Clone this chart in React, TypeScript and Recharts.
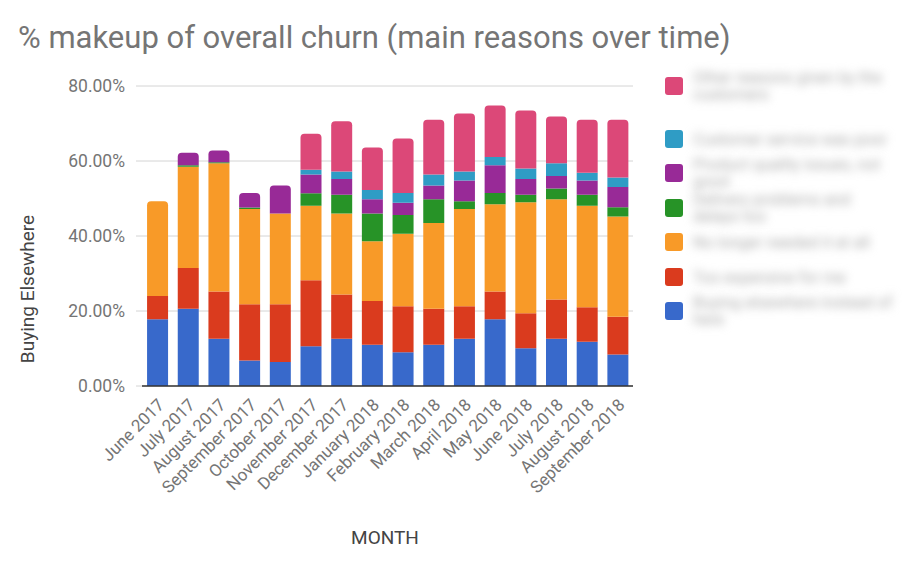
import { BarChart, Bar, XAxis, YAxis, CartesianGrid } from 'recharts';

const months = [
  'June 2017', 'July 2017', 'August 2017', 'September 2017', 'October 2017',
  'November 2017', 'December 2017', 'January 2018', 'February 2018', 'March 2018',
  'April 2018', 'May 2018', 'June 2018', 'July 2018', 'August 2018', 'September 2018',
];

// % of churn per reason, bottom of the stack first
const blueVals = [17.8, 20.6, 12.6, 6.8, 6.4, 10.6, 12.6, 11.0, 9.0, 11.0, 12.6, 17.8, 10.1, 12.6, 11.8, 8.4];
const redVals = [6.2, 10.9, 12.6, 15.0, 15.4, 17.6, 11.8, 11.7, 12.3, 9.6, 8.7, 7.4, 9.3, 10.5, 9.2, 10.1];
const orangeVals = [25.3, 27.0, 34.2, 25.4, 24.2, 19.9, 21.6, 15.9, 19.3, 22.9, 25.9, 23.3, 29.6, 26.7, 27.1, 26.7];
const greenVals = [0, 0.4, 0.3, 0.4, 0, 3.3, 5.0, 7.4, 5.0, 6.3, 2.1, 3.0, 2.0, 2.9, 2.9, 2.5];
const purpleVals = [0, 3.3, 3.1, 3.9, 7.5, 5.0, 4.2, 3.8, 3.3, 3.7, 5.5, 7.4, 4.2, 3.3, 3.8, 5.4];
const tealVals = [0, 0, 0, 0, 0, 1.3, 2.0, 2.5, 2.6, 2.9, 2.4, 2.2, 2.8, 3.4, 2.1, 2.5];
const pinkVals = [0, 0, 0, 0, 0, 9.6, 13.4, 11.3, 14.5, 14.6, 15.5, 13.7, 15.5, 12.5, 14.1, 15.4];

const yTicks = [0, 20, 40, 60, 80];

const series = [
  { key: 'blue', name: 'Buying elsewhere instead of here', color: '#3869cb', values: blueVals },
  { key: 'red', name: 'Too expensive for me', color: '#da3b1e', values: redVals },
  { key: 'orange', name: 'No longer needed it at all', color: '#f89a28', values: orangeVals },
  { key: 'green', name: 'Delivery problems and delays too', color: '#279327', values: greenVals },
  { key: 'purple', name: 'Product quality issues, not good', color: '#982a97', values: purpleVals },
  { key: 'teal', name: 'Customer service was poor', color: '#2f9cc5', values: tealVals },
  { key: 'pink', name: 'Other reasons given by the customers', color: '#dc4878', values: pinkVals },
];

const data = months.map((month, i) => {
  const row: Record<string, string | number> = { month };
  series.forEach((s) => {
    row[s.key] = s.values[i];
  });
  return row;
});

const font = 'Roboto, Arial, sans-serif';

const MonthTick = ({ x, y, payload }: any) => {
  const ax = x + 8;
  const ay = y + 12;
  return (
    <text
      x={ax}
      y={ay}
      transform={`rotate(-45 ${ax} ${ay})`}
      textAnchor="end"
      fill="#757575"
      fontSize={17}
      fontFamily={font}
    >
      {payload.value}
    </text>
  );
};

// round the top of whichever segment ends up on top of its stack
const makeShape = (idx: number) => (props: any) => {
  const { x, y, width, height, fill, payload } = props;
  if (!height || height <= 0) return <g />;
  const isTop = series.slice(idx + 1).every((s) => !payload[s.key]);
  const r = isTop ? Math.min(4, height) : 0;
  const d = `M${x},${y + height} L${x},${y + r} Q${x},${y} ${x + r},${y} L${x + width - r},${y} Q${x + width},${y} ${x + width},${y + r} L${x + width},${y + height} Z`;
  return <path d={d} fill={fill} />;
};

const legendRows = [...series].reverse();
const legendY = [86, 139, 173, 208, 242, 277, 311];

export default function App() {
  return (
    <div style={{ position: 'absolute', left: 0, top: 0, width: 908, height: 575, background: '#fff', fontFamily: font }}>
      <div style={{ position: 'absolute', left: 18, top: 19, fontSize: 31, color: '#757575', whiteSpace: 'nowrap' }}>
        % makeup of overall churn (main reasons over time)
      </div>
      <BarChart
        width={908}
        height={575}
        data={data}
        margin={{ top: 86, right: 275, bottom: 89, left: 0 }}
        barCategoryGap="16.5%"
      >
        <CartesianGrid vertical={false} stroke="#d4d4d4" />
        <XAxis
          dataKey="month"
          interval={0}
          height={100}
          tick={<MonthTick />}
          tickLine={false}
          axisLine={{ stroke: '#333', strokeWidth: 1.5 }}
        />
        <YAxis
          width={142}
          domain={[0, 80]}
          ticks={yTicks}
          tickFormatter={(v) => `${v.toFixed(2)}%`}
          tick={{ fill: '#757575', fontSize: 17.5, fontFamily: font }}
          tickLine={{ stroke: '#d4d4d4' }}
          tickSize={6}
          axisLine={false}
          tickMargin={11}
        />
        {series.map((s, i) => (
          <Bar
            key={s.key}
            dataKey={s.key}
            name={s.name}
            stackId="churn"
            fill={s.color}
            shape={makeShape(i)}
            isAnimationActive={false}
          />
        ))}
      </BarChart>
      <div
        style={{
          position: 'absolute', left: 27, top: 289, transform: 'translate(-50%, -50%) rotate(-90deg)',
          fontSize: 19, color: '#444', whiteSpace: 'nowrap',
        }}
      >
        Buying Elsewhere
      </div>
      <div style={{ position: 'absolute', left: 385, top: 537, transform: 'translate(-50%, -50%)', fontSize: 19, color: '#444' }}>
        MONTH
      </div>
      {legendRows.map((s, i) => (
        <div key={s.key} style={{ position: 'absolute', left: 665, top: legendY[i] - 9, height: 18, display: 'flex', alignItems: 'center' }}>
          <div style={{ width: 18, height: 18, borderRadius: 3, background: s.color }} />
          <div
            style={{
              marginLeft: 10, fontSize: 16, lineHeight: '17px', color: '#aaa', filter: 'blur(5px)', width: 200,
            }}
          >
            {s.name}
          </div>
        </div>
      ))}
    </div>
  );
}
